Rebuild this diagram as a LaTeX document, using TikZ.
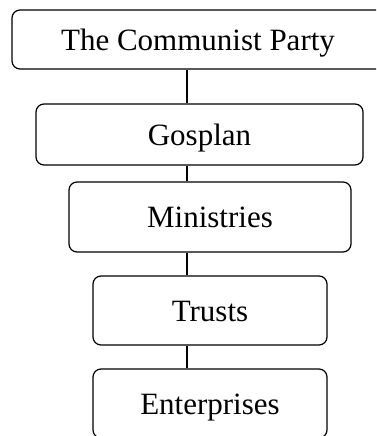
\documentclass[tikz,border=0pt]{standalone}
\usepackage{fontspec}
\setmainfont{Liberation Serif}
\begin{document}
\begin{tikzpicture}[x=1pt,y=1pt,
  orgbox/.style={draw, line width=1.2pt, rounded corners=8pt, inner sep=0pt,
    font=\fontsize{31}{36}\selectfont, text height=22pt, text depth=0pt},
  link/.style={line width=1.2pt}]
\useasboundingbox (0,0) rectangle (376,436);
\clip (0,0) rectangle (376,436);
\fill[white] (0,0) rectangle (376,436);
\node[orgbox, minimum width=372pt, minimum height=59pt] (party) at (198,396.5) {The Communist Party};
\node[orgbox, minimum width=327pt, minimum height=61pt] (gosplan) at (199.5,301.5) {Gosplan};
\node[orgbox, minimum width=282pt, minimum height=70pt] (min) at (210,219) {Ministries};
\node[orgbox, minimum width=234pt, minimum height=69pt] (trusts) at (210,125.5) {Trusts};
\node[orgbox, minimum width=234pt, minimum height=69pt] (ent) at (210,32.5) {Enterprises};
\coordinate (lx) at (187,0);
\draw[link] (party.south -| lx) -- (gosplan.north -| lx);
\draw[link] (gosplan.south -| lx) -- (min.north -| lx);
\draw[link] (min.south -| lx) -- (trusts.north -| lx);
\draw[link] (trusts.south -| lx) -- (ent.north -| lx);
\end{tikzpicture}
\end{document}
